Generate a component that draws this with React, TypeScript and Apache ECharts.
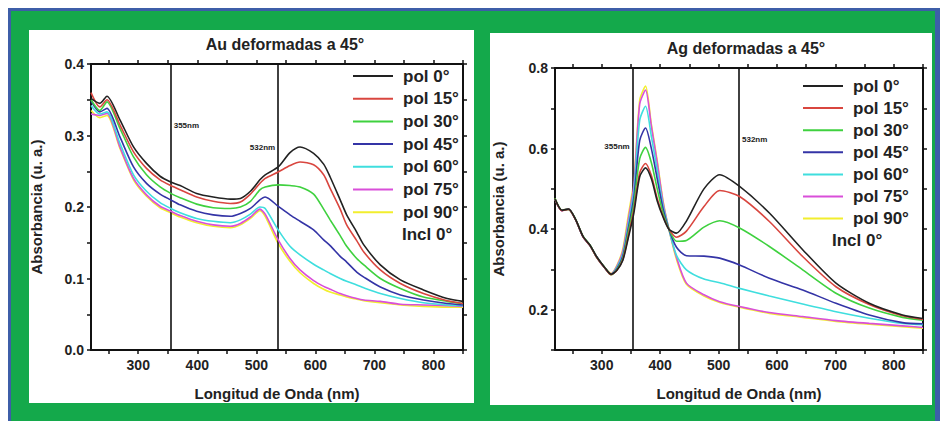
import React, { useEffect, useRef } from "react";
import * as echarts from "echarts";

// ---------- Data ----------
const seriesNames = ["pol 0°", "pol 15°", "pol 30°", "pol 45°", "pol 60°", "pol 75°", "pol 90°"];
const seriesColors = ["#222222", "#d9463f", "#3fd13f", "#3434a6", "#3fdede", "#d94fd9", "#f2ee2e"];

const xTickLabels = [300, 400, 500, 600, 700, 800];
const xTicks = [250, 300, 350, 400, 450, 500, 550, 600, 650, 700, 750, 800, 850];

// Au panel
const auWavelength = [220, 235, 247, 269, 292, 314, 337, 355, 371, 399, 427, 456, 473, 490, 506, 515, 537, 557, 574, 597, 614, 625, 642, 653, 670, 682, 710, 744, 783, 823, 850];
const auPol0 = [0.352, 0.345, 0.355, 0.322, 0.284, 0.261, 0.243, 0.235, 0.23, 0.219, 0.214, 0.211, 0.212, 0.222, 0.238, 0.245, 0.256, 0.276, 0.284, 0.275, 0.26, 0.242, 0.21, 0.189, 0.165, 0.147, 0.119, 0.098, 0.084, 0.072, 0.068];
const auPol15 = [0.36, 0.34, 0.35, 0.315, 0.277, 0.254, 0.238, 0.23, 0.224, 0.214, 0.208, 0.205, 0.207, 0.218, 0.233, 0.24, 0.249, 0.258, 0.263, 0.259, 0.245, 0.226, 0.197, 0.175, 0.153, 0.137, 0.112, 0.093, 0.079, 0.069, 0.065];
const auPol30 = [0.35, 0.335, 0.347, 0.31, 0.27, 0.245, 0.228, 0.219, 0.213, 0.204, 0.199, 0.198, 0.2, 0.208, 0.224, 0.228, 0.231, 0.23, 0.228, 0.218, 0.197, 0.182, 0.16, 0.145, 0.128, 0.119, 0.1, 0.086, 0.074, 0.068, 0.065];
const auPol45 = [0.348, 0.333, 0.338, 0.298, 0.256, 0.233, 0.218, 0.21, 0.203, 0.194, 0.189, 0.187, 0.191, 0.198, 0.21, 0.214, 0.201, 0.189, 0.18, 0.168, 0.154, 0.146, 0.131, 0.123, 0.109, 0.102, 0.088, 0.077, 0.07, 0.065, 0.063];
const auPol60 = [0.342, 0.33, 0.333, 0.289, 0.245, 0.222, 0.206, 0.198, 0.192, 0.184, 0.18, 0.178, 0.182, 0.19, 0.2, 0.198, 0.168, 0.145, 0.133, 0.12, 0.112, 0.107, 0.1, 0.096, 0.091, 0.087, 0.079, 0.072, 0.066, 0.063, 0.062];
const auPol75 = [0.33, 0.328, 0.331, 0.284, 0.24, 0.217, 0.201, 0.194, 0.188, 0.18, 0.175, 0.173, 0.177, 0.186, 0.197, 0.19, 0.154, 0.128, 0.112, 0.097, 0.089, 0.085, 0.079, 0.076, 0.072, 0.07, 0.068, 0.064, 0.063, 0.062, 0.061];
const auPol90 = [0.335, 0.325, 0.328, 0.282, 0.238, 0.215, 0.199, 0.192, 0.186, 0.178, 0.173, 0.171, 0.175, 0.184, 0.195, 0.187, 0.149, 0.124, 0.108, 0.093, 0.085, 0.081, 0.077, 0.074, 0.071, 0.069, 0.066, 0.063, 0.061, 0.06, 0.06];
const auYTicks = [0, 0.05, 0.1, 0.15, 0.2, 0.25, 0.3, 0.35, 0.4];
const auYLabels = [0, 0.1, 0.2, 0.3, 0.4];
const auMarkers = [355, 537];

// Ag panel
const agWavelength = [220, 232, 243, 255, 268, 280, 291, 305, 316, 326, 336, 345, 355, 365, 375, 385, 395, 405, 415, 428, 445, 475, 502, 536, 587, 644, 701, 758, 815, 850];
const agPol0 = [0.475, 0.447, 0.45, 0.425, 0.382, 0.36, 0.332, 0.305, 0.288, 0.298, 0.322, 0.375, 0.44, 0.53, 0.552, 0.525, 0.47, 0.43, 0.4, 0.39, 0.42, 0.5, 0.535, 0.506, 0.44, 0.349, 0.266, 0.216, 0.187, 0.178];
const agPol15 = [0.474, 0.446, 0.449, 0.424, 0.381, 0.359, 0.331, 0.304, 0.287, 0.298, 0.324, 0.38, 0.448, 0.54, 0.563, 0.533, 0.476, 0.432, 0.4, 0.38, 0.395, 0.456, 0.496, 0.481, 0.419, 0.332, 0.257, 0.213, 0.185, 0.176];
const agPol30 = [0.476, 0.447, 0.449, 0.425, 0.382, 0.36, 0.331, 0.305, 0.287, 0.3, 0.327, 0.39, 0.463, 0.575, 0.603, 0.565, 0.5, 0.44, 0.4, 0.37, 0.372, 0.405, 0.421, 0.403, 0.357, 0.299, 0.241, 0.204, 0.181, 0.174];
const agPol45 = [0.475, 0.446, 0.45, 0.424, 0.381, 0.359, 0.332, 0.304, 0.288, 0.302, 0.332, 0.398, 0.478, 0.62, 0.651, 0.6, 0.525, 0.45, 0.4, 0.355, 0.334, 0.333, 0.328, 0.311, 0.278, 0.249, 0.216, 0.187, 0.168, 0.165];
const agPol60 = [0.474, 0.447, 0.449, 0.425, 0.382, 0.36, 0.332, 0.305, 0.288, 0.305, 0.338, 0.408, 0.495, 0.67, 0.705, 0.63, 0.545, 0.458, 0.4, 0.335, 0.299, 0.276, 0.267, 0.253, 0.234, 0.214, 0.195, 0.179, 0.166, 0.163];
const agPol75 = [0.475, 0.446, 0.45, 0.424, 0.381, 0.359, 0.331, 0.304, 0.289, 0.308, 0.345, 0.42, 0.51, 0.71, 0.745, 0.655, 0.565, 0.467, 0.4, 0.33, 0.266, 0.237, 0.22, 0.208, 0.193, 0.183, 0.173, 0.166, 0.16, 0.156];
const agPol90 = [0.476, 0.447, 0.45, 0.425, 0.382, 0.36, 0.332, 0.305, 0.29, 0.31, 0.35, 0.43, 0.52, 0.72, 0.755, 0.66, 0.57, 0.47, 0.4, 0.325, 0.263, 0.234, 0.218, 0.206, 0.191, 0.181, 0.171, 0.164, 0.158, 0.154];
const agYLabels = [0.2, 0.4, 0.6, 0.8];
const agYTicks = [0.1, 0.2, 0.3, 0.4, 0.5, 0.6, 0.7, 0.8];
const agMarkers = [353, 535];

const auSeries = [auPol0, auPol15, auPol30, auPol45, auPol60, auPol75, auPol90];
const agSeries = [agPol0, agPol15, agPol30, agPol45, agPol60, agPol75, agPol90];

const FONT = "'Liberation Sans', Arial, sans-serif";
const TXT = "#222";

function xAxes(gridIndex: number) {
  const common = {
    type: "value",
    gridIndex,
    min: 220,
    max: 850,
    splitLine: { show: false },
    axisLine: { show: true, onZero: false, lineStyle: { color: "#111", width: 2 } },
    axisTick: { show: true, customValues: xTicks, length: 4, lineStyle: { color: "#111", width: 1.5 } },
  };
  return [
    {
      ...common,
      position: "bottom",
      name: "Longitud de Onda (nm)",
      nameLocation: "middle",
      nameGap: 36,
      nameTextStyle: { fontSize: 15, fontWeight: "bold", color: TXT, fontFamily: FONT },
      axisLabel: { customValues: xTickLabels, fontSize: 14, fontWeight: "bold", color: TXT, fontFamily: FONT, margin: 8 },
    },
    { ...common, position: "top", axisLabel: { show: false } },
  ];
}

function yAxes(gridIndex: number, min: number, max: number, ticks: number[], labels: number[], nameGap: number) {
  const common = {
    type: "value",
    gridIndex,
    min,
    max,
    splitLine: { show: false },
    axisLine: { show: true, onZero: false, lineStyle: { color: "#111", width: 2 } },
    axisTick: { show: true, customValues: ticks, length: 4, lineStyle: { color: "#111", width: 1.5 } },
  };
  return [
    {
      ...common,
      position: "left",
      name: "Absorbancia (u. a.)",
      nameLocation: "middle",
      nameGap,
      nameTextStyle: { fontSize: 15, fontWeight: "bold", color: TXT, fontFamily: FONT },
      axisLabel: {
        customValues: labels,
        formatter: (v: number) => v.toFixed(1),
        fontSize: 14,
        fontWeight: "bold",
        color: TXT,
        fontFamily: FONT,
        margin: 7,
      },
    },
    { ...common, position: "right", axisLabel: { show: false } },
  ];
}

function buildSeries(
  wl: number[],
  values: number[][],
  axisIndex: number,
  markers: number[],
  markerLabels: { y: number; pos: string }[]
) {
  return values.map((vals, i) => {
    const s: any = {
      type: "line",
      name: seriesNames[i],
      xAxisIndex: axisIndex,
      yAxisIndex: axisIndex,
      data: wl.map((x, k) => [x, vals[k]]),
      smooth: 0.25,
      symbol: "none",
      lineStyle: { color: seriesColors[i], width: 1.6 },
      itemStyle: { color: seriesColors[i] },
      z: 10 - i,
    };
    if (i === 0) {
      s.markLine = {
        silent: true,
        symbol: "none",
        label: { show: false },
        lineStyle: { color: "#111", width: 1.6, type: "solid" },
        data: markers.map((m) => ({ xAxis: m })),
      };
      s.markPoint = {
        silent: true,
        symbol: "circle",
        symbolSize: 0,
        data: markers.map((m, k) => ({
          coord: [m, markerLabels[k].y],
          label: {
            show: true,
            formatter: m < 450 ? "355nm" : "532nm",
            position: markerLabels[k].pos,
            distance: 3,
            fontSize: 8,
            fontWeight: "bold",
            color: TXT,
            fontFamily: FONT,
          },
        })),
      };
    }
    return s;
  });
}

export default function App() {
  const ref = useRef<HTMLDivElement>(null);

  useEffect(() => {
    if (!ref.current) return;
    const chart = echarts.init(ref.current, undefined, { renderer: "svg" });
    const legendCommon = {
      orient: "vertical",
      data: seriesNames,
      icon: "rect",
      itemWidth: 40,
      itemHeight: 2,
      selectedMode: false,
      padding: 0,
      textStyle: {
        fontSize: 17,
        lineHeight: 20,
        fontWeight: "bold",
        color: TXT,
        fontFamily: FONT,
        padding: [0, 0, 0, 5],
      },
    };
    const option: any = {
      animation: false,
      backgroundColor: "transparent",
      title: [
        {
          text: "Au deformadas a 45°",
          left: 280,
          top: 31,
          textAlign: "center",
          textStyle: { fontSize: 16, fontWeight: "bold", color: TXT, fontFamily: FONT },
        },
        {
          text: "Ag deformadas a 45°",
          left: 741,
          top: 35,
          textAlign: "center",
          textStyle: { fontSize: 16, fontWeight: "bold", color: TXT, fontFamily: FONT },
        },
      ],
      legend: [
        { ...legendCommon, left: 353, top: 66, itemGap: 2.7 },
        { ...legendCommon, left: 803, top: 76, itemGap: 2.1 },
      ],
      grid: [
        { left: 91, top: 64, width: 372, height: 286, containLabel: false },
        { left: 555, top: 68, width: 368, height: 282, containLabel: false },
      ],
      xAxis: [...xAxes(0), ...xAxes(1)],
      yAxis: [
        ...yAxes(0, 0, 0.4, auYTicks, auYLabels, 47),
        ...yAxes(1, 0.1, 0.8, agYTicks, agYLabels, 49),
      ],
      series: [
        ...buildSeries(auWavelength, auSeries, 0, auMarkers, [
          { y: 0.314, pos: "right" },
          { y: 0.283, pos: "left" },
        ]),
        ...buildSeries(agWavelength, agSeries, 2, agMarkers, [
          { y: 0.606, pos: "left" },
          { y: 0.622, pos: "right" },
        ]),
      ],
      graphic: [
        {
          type: "text",
          left: 402,
          top: 226,
          style: { text: "Incl 0°", fontSize: 17, fontWeight: "bold", fill: TXT, fontFamily: FONT },
        },
        {
          type: "text",
          left: 832,
          top: 232,
          style: { text: "Incl 0°", fontSize: 17, fontWeight: "bold", fill: TXT, fontFamily: FONT },
        },
      ],
    };
    chart.setOption(option);
    return () => chart.dispose();
  }, []);

  return (
    <div style={{ position: "fixed", left: 0, top: 0, width: 940, height: 421, background: "#ffffff", overflow: "hidden" }}>
      <div style={{ position: "absolute", left: 8, top: 8, width: 932, height: 413, background: "#3d5ea8" }} />
      <div style={{ position: "absolute", left: 11, top: 11, width: 924, height: 410, background: "#14a94b" }} />
      <div style={{ position: "absolute", left: 29, top: 30, width: 445, height: 373, background: "#ffffff" }} />
      <div style={{ position: "absolute", left: 490, top: 33, width: 442, height: 372, background: "#ffffff" }} />
      <div ref={ref} style={{ position: "absolute", left: 0, top: 0, width: 940, height: 421 }} />
    </div>
  );
}
